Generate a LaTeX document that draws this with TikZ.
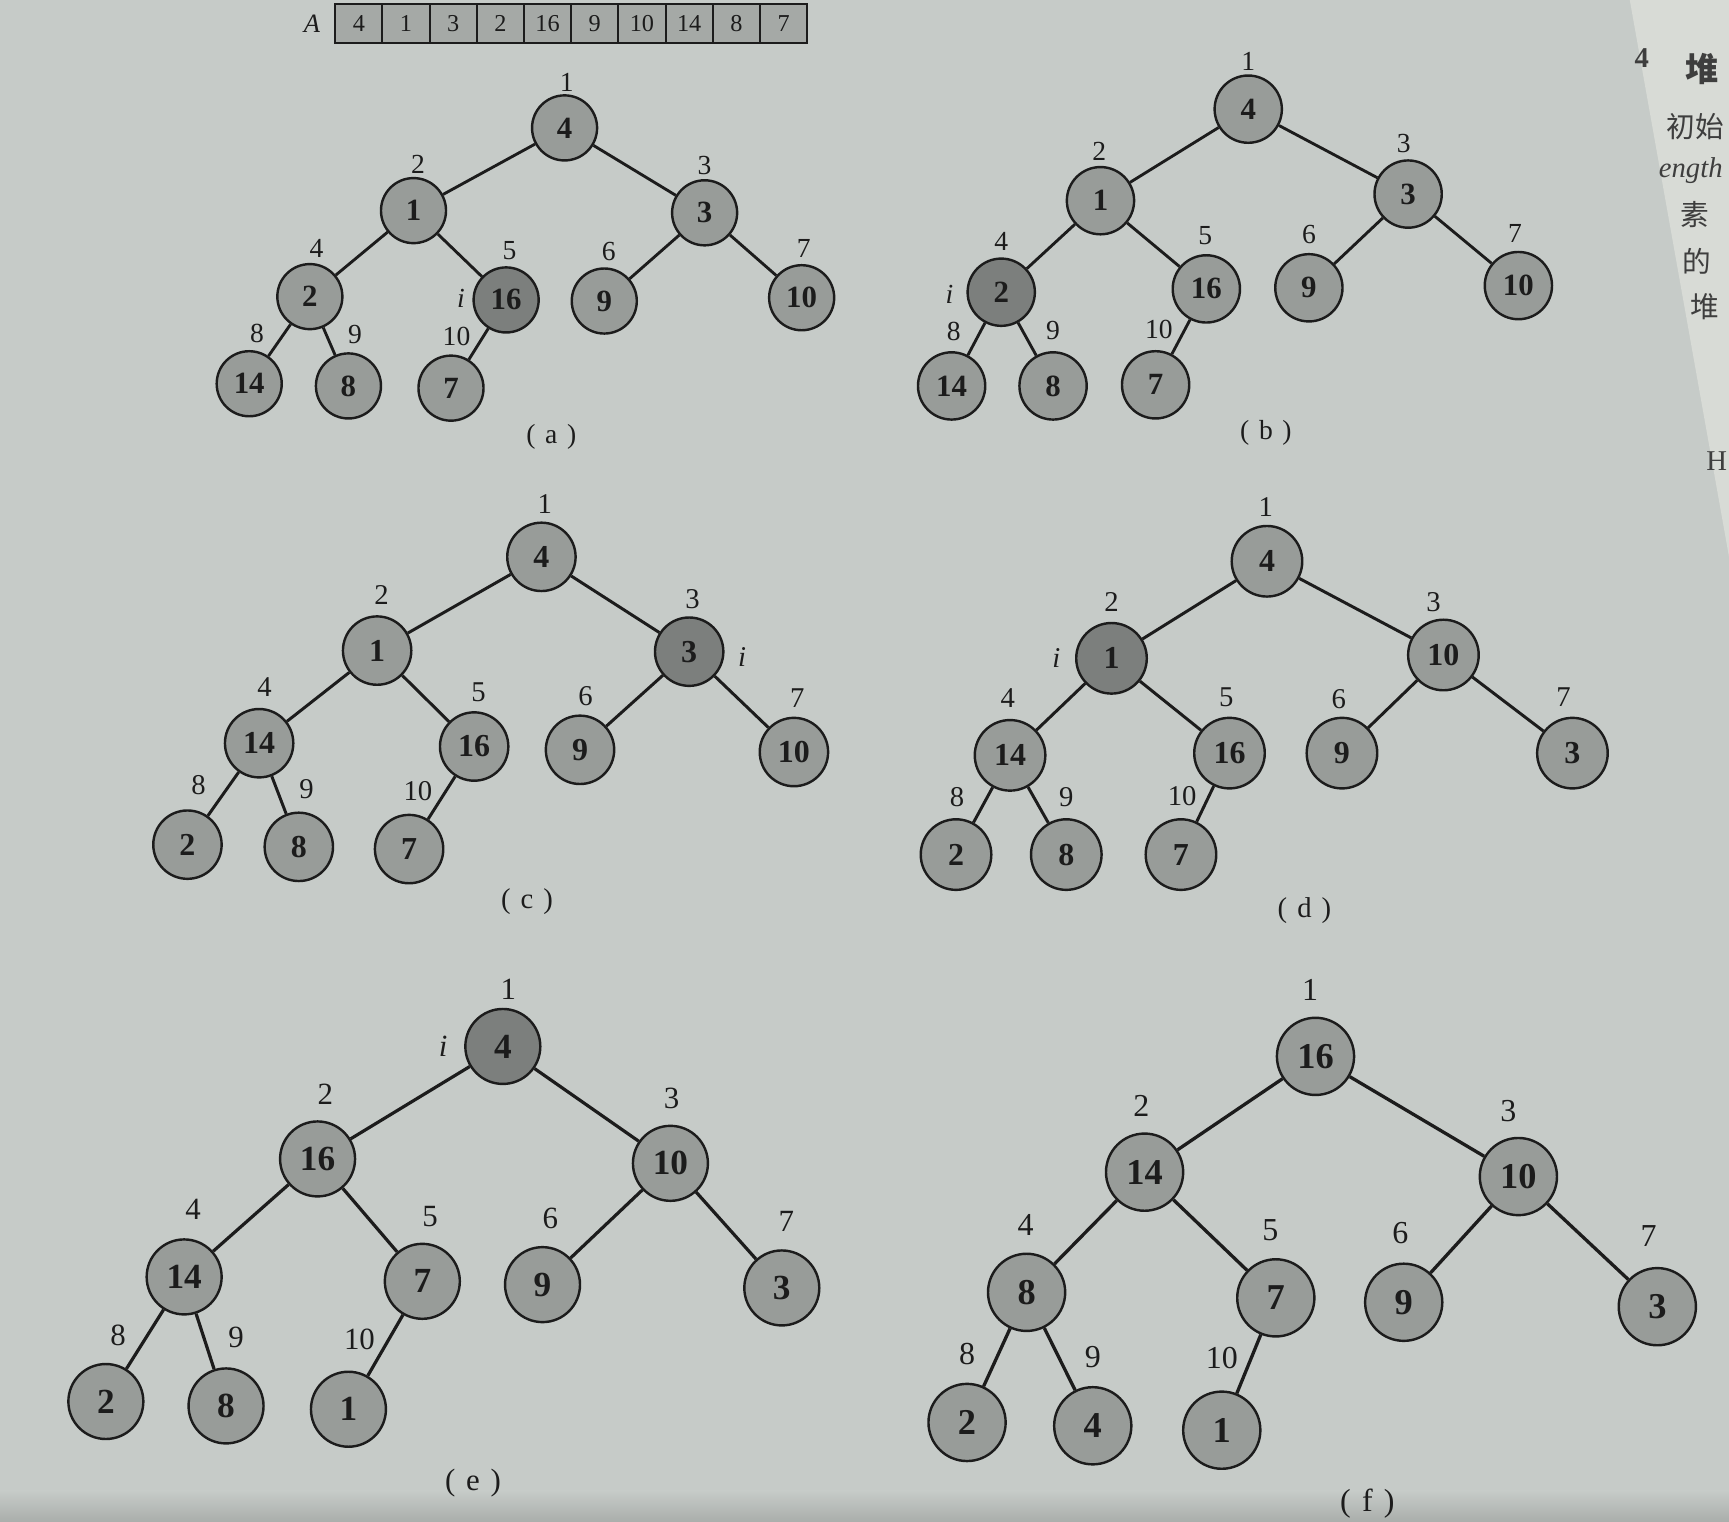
\documentclass[tikz,border=0pt]{standalone}
\usepackage{fontspec}
\setmainfont{Liberation Serif}
\newfontfamily\cjk{Noto Sans CJK SC}
\definecolor{bg}{RGB}{198,203,200}
\definecolor{bgdark}{RGB}{170,174,171}
\definecolor{strip}{RGB}{216,219,214}
\definecolor{ng}{RGB}{152,156,153}
\definecolor{nd}{RGB}{124,127,125}
\definecolor{cellg}{RGB}{165,169,166}
\definecolor{ink}{RGB}{28,28,28}
\begin{document}
\begin{tikzpicture}[x=0.5pt,y=-0.5pt,
  hn/.style={circle,draw=ink,line width=1.1pt,fill=ng,inner sep=0pt,text=ink},
  dk/.style={fill=nd},
  iv/.style={inner sep=0pt,text=ink},
  ix/.style={iv,yshift=2pt},
  conn/.style={draw=ink,line width=1.3pt},
  captxt/.style={inner sep=0pt,text=ink},
  cell/.style={draw=ink,line width=0.9pt,fill=cellg,minimum width=21.4pt,minimum height=17.5pt,inner sep=0pt,text=ink,font=\fontsize{11}{11}\selectfont},
  frag/.style={inner sep=0pt,anchor=west,text=ink!85},
  tree/.style n args={4}{hn/.append style={minimum size=#1,font=\fontsize{#2}{#2}\selectfont\bfseries},
     iv/.append style={font=\fontsize{#3}{#3}\selectfont},
     captxt/.append style={font=\fontsize{#3}{#3}\selectfont},
     conn/.append style={line width=#4}}]
\useasboundingbox (0,0) rectangle (1568,1380);
\clip (0,0) rectangle (1568,1380);
\fill[bg] (0,0) rectangle (1568,1380);
\shade[top color=bg,bottom color=bgdark] (0,1352) rectangle (1568,1380);
% right page strip
\fill[strip] (1478,0) -- (1568,0) -- (1568,505) -- cycle;
\node[frag,font=\fontsize{13}{13}\selectfont\bfseries] (fr0) at (1482,53) {4};
\node[frag,font=\cjk\fontsize{15}{15}\selectfont\bfseries] (fr1) at (1528,63) {堆};
\node[frag,font=\cjk\fontsize{13}{13}\selectfont] (fr2) at (1511,115) {初始};
\node[frag,font=\fontsize{13}{13}\selectfont\itshape] (fr3) at (1504,155) {ength};
\node[frag,font=\cjk\fontsize{13}{13}\selectfont] (fr4) at (1524,195) {素};
\node[frag,font=\cjk\fontsize{13}{13}\selectfont] (fr5) at (1525,237) {的};
\node[frag,font=\cjk\fontsize{13}{13}\selectfont] (fr6) at (1533,278) {堆};
\node[frag,font=\fontsize{13}{13}\selectfont] (fr7) at (1547,418) {H};

% array
\node[inner sep=0pt,text=ink,font=\fontsize{12}{12}\selectfont\itshape] (Alab) at (283,22) {A};
\foreach \v [count=\k] in {4,1,3,2,16,9,10,14,8,7}
  \node[cell] (A\k) at ({304+42.8*(\k-0.5)},21.5) {\v};

% ---------- (a)
\begin{scope}[tree={29.5pt}{14}{12.5}{1.3pt}]
\node[hn] (a1) at (512,116) {4};
\node[hn] (a2) at (375,191) {1};
\node[hn] (a3) at (639,193) {3};
\node[hn] (a4) at (281,269) {2};
\node[hn,dk] (a5) at (459,272) {16};
\node[hn] (a6) at (548,273) {9};
\node[hn] (a7) at (727,270) {10};
\node[hn] (a8) at (226,348) {14};
\node[hn] (a9) at (316,350) {8};
\node[hn] (a10) at (409,352) {7};
\draw[conn] (a1)--(a2) (a1)--(a3) (a2)--(a4) (a2)--(a5) (a3)--(a6) (a3)--(a7) (a4)--(a8) (a4)--(a9) (a5)--(a10);
\node[ix] (al1) at (514,79) {1};
\node[ix] (al2) at (379,153) {2};
\node[ix] (al3) at (639,154) {3};
\node[ix] (al4) at (287,229) {4};
\node[ix] (al5) at (462,231) {5};
\node[ix] (al6) at (552,232) {6};
\node[ix] (al7) at (729,229) {7};
\node[ix] (al8) at (233,306) {8};
\node[ix] (al9) at (322,307) {9};
\node[ix] (al10) at (414,309) {10};
\node[iv] (ai) at (418,271) {\itshape i};
\node[captxt] (acap) at (500,396) {(\hspace{.35em}a\hspace{.35em})};
\end{scope}

% ---------- (b)
\begin{scope}[tree={30.5pt}{14}{12.5}{1.3pt}]
\node[hn] (b1) at (1132,99) {4};
\node[hn] (b2) at (998,182) {1};
\node[hn] (b3) at (1277,176) {3};
\node[hn,dk] (b4) at (908,265) {2};
\node[hn] (b5) at (1094,262) {16};
\node[hn] (b6) at (1187,261) {9};
\node[hn] (b7) at (1377,259) {10};
\node[hn] (b8) at (863,350) {14};
\node[hn] (b9) at (955,350) {8};
\node[hn] (b10) at (1048,349) {7};
\draw[conn] (b1)--(b2) (b1)--(b3) (b2)--(b4) (b2)--(b5) (b3)--(b6) (b3)--(b7) (b4)--(b8) (b4)--(b9) (b5)--(b10);
\node[ix] (bl1) at (1132,60) {1};
\node[ix] (bl2) at (997,141) {2};
\node[ix] (bl3) at (1273,134) {3};
\node[ix] (bl4) at (908,223) {4};
\node[ix] (bl5) at (1093,218) {5};
\node[ix] (bl6) at (1187,217) {6};
\node[ix] (bl7) at (1374,216) {7};
\node[ix] (bl8) at (865,305) {8};
\node[ix] (bl9) at (955,304) {9};
\node[ix] (bl10) at (1051,303) {10};
\node[iv] (bi) at (861,267) {\itshape i};
\node[captxt] (bcap) at (1148,393) {(\hspace{.35em}b\hspace{.35em})};
\end{scope}

% ---------- (c)
\begin{scope}[tree={31pt}{14.5}{13}{1.35pt}]
\node[hn] (c1) at (491,505) {4};
\node[hn] (c2) at (342,590) {1};
\node[hn,dk] (c3) at (625,591) {3};
\node[hn] (c4) at (235,674) {14};
\node[hn] (c5) at (430,677) {16};
\node[hn] (c6) at (526,680) {9};
\node[hn] (c7) at (720,682) {10};
\node[hn] (c8) at (170,766) {2};
\node[hn] (c9) at (271,768) {8};
\node[hn] (c10) at (371,770) {7};
\draw[conn] (c1)--(c2) (c1)--(c3) (c2)--(c4) (c2)--(c5) (c3)--(c6) (c3)--(c7) (c4)--(c8) (c4)--(c9) (c5)--(c10);
\node[ix] (cl1) at (494,461) {1};
\node[ix] (cl2) at (346,544) {2};
\node[ix] (cl3) at (628,547) {3};
\node[ix] (cl4) at (240,627) {4};
\node[ix] (cl5) at (434,632) {5};
\node[ix] (cl6) at (531,635) {6};
\node[ix] (cl7) at (723,637) {7};
\node[ix] (cl8) at (180,716) {8};
\node[ix] (cl9) at (278,720) {9};
\node[ix] (cl10) at (379,721) {10};
\node[iv] (ci) at (673,596) {\itshape i};
\node[captxt] (ccap) at (478,818) {(\hspace{.35em}c\hspace{.35em})};
\end{scope}

% ---------- (d)
\begin{scope}[tree={32pt}{14.5}{13}{1.35pt}]
\node[hn] (d1) at (1149,509) {4};
\node[hn,dk] (d2) at (1008,597) {1};
\node[hn] (d3) at (1309,594) {10};
\node[hn] (d4) at (916,685) {14};
\node[hn] (d5) at (1115,683) {16};
\node[hn] (d6) at (1217,683) {9};
\node[hn] (d7) at (1426,683) {3};
\node[hn] (d8) at (867,775) {2};
\node[hn] (d9) at (967,775) {8};
\node[hn] (d10) at (1071,775) {7};
\draw[conn] (d1)--(d2) (d1)--(d3) (d2)--(d4) (d2)--(d5) (d3)--(d6) (d3)--(d7) (d4)--(d8) (d4)--(d9) (d5)--(d10);
\node[ix] (dl1) at (1148,464) {1};
\node[ix] (dl2) at (1008,550) {2};
\node[ix] (dl3) at (1300,550) {3};
\node[ix] (dl4) at (914,637) {4};
\node[ix] (dl5) at (1112,636) {5};
\node[ix] (dl6) at (1214,638) {6};
\node[ix] (dl7) at (1418,636) {7};
\node[ix] (dl8) at (868,727) {8};
\node[ix] (dl9) at (967,727) {9};
\node[ix] (dl10) at (1072,726) {10};
\node[iv] (di) at (958,597) {\itshape i};
\node[captxt] (dcap) at (1183,826) {(\hspace{.35em}d\hspace{.35em})};
\end{scope}

% ---------- (e)
\begin{scope}[tree={34pt}{16}{14}{1.45pt}]
\node[hn,dk] (e1) at (456,949) {4};
\node[hn] (e2) at (288,1051) {16};
\node[hn] (e3) at (608,1055) {10};
\node[hn] (e4) at (167,1158) {14};
\node[hn] (e5) at (383,1162) {7};
\node[hn] (e6) at (492,1165) {9};
\node[hn] (e7) at (709,1168) {3};
\node[hn] (e8) at (96,1271) {2};
\node[hn] (e9) at (205,1275) {8};
\node[hn] (e10) at (316,1278) {1};
\draw[conn] (e1)--(e2) (e1)--(e3) (e2)--(e4) (e2)--(e5) (e3)--(e6) (e3)--(e7) (e4)--(e8) (e4)--(e9) (e5)--(e10);
\node[ix] (el1) at (461,901) {1};
\node[ix] (el2) at (295,996) {2};
\node[ix] (el3) at (609,1000) {3};
\node[ix] (el4) at (175,1101) {4};
\node[ix] (el5) at (390,1107) {5};
\node[ix] (el6) at (499,1109) {6};
\node[ix] (el7) at (713,1112) {7};
\node[ix] (el8) at (107,1215) {8};
\node[ix] (el9) at (214,1217) {9};
\node[ix] (el10) at (326,1219) {10};
\node[iv] (ei) at (402,949) {\itshape i};
\node[captxt] (ecap) at (429,1345) {(\hspace{.35em}e\hspace{.35em})};
\end{scope}

% ---------- (f)
\begin{scope}[tree={35pt}{16.5}{14.5}{1.5pt}]
\node[hn] (f1) at (1193,958) {16};
\node[hn] (f2) at (1038,1063) {14};
\node[hn] (f3) at (1377,1067) {10};
\node[hn] (f4) at (931,1172) {8};
\node[hn] (f5) at (1157,1177) {7};
\node[hn] (f6) at (1273,1181) {9};
\node[hn] (f7) at (1503,1185) {3};
\node[hn] (f8) at (877,1290) {2};
\node[hn] (f9) at (991,1293) {4};
\node[hn] (f10) at (1108,1297) {1};
\draw[conn] (f1)--(f2) (f1)--(f3) (f2)--(f4) (f2)--(f5) (f3)--(f6) (f3)--(f7) (f4)--(f8) (f4)--(f9) (f5)--(f10);
\node[ix] (fl1) at (1188,902) {1};
\node[ix] (fl2) at (1035,1007) {2};
\node[ix] (fl3) at (1368,1012) {3};
\node[ix] (fl4) at (930,1115) {4};
\node[ix] (fl5) at (1152,1120) {5};
\node[ix] (fl6) at (1270,1122) {6};
\node[ix] (fl7) at (1495,1125) {7};
\node[ix] (fl8) at (877,1232) {8};
\node[ix] (fl9) at (991,1235) {9};
\node[ix] (fl10) at (1108,1236) {10};
\node[captxt] (fcap) at (1240,1364) {(\hspace{.35em}f\hspace{.35em})};
\end{scope}
\end{tikzpicture}
\end{document}
